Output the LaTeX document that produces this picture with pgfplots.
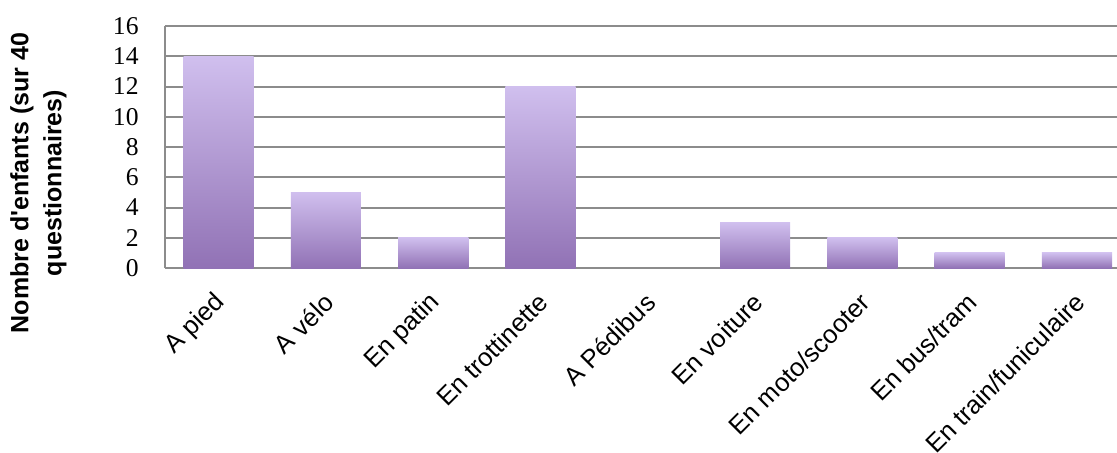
\documentclass[border=0pt]{standalone}
\usepackage{fontspec}
\setmainfont{Liberation Serif}
\setsansfont{Liberation Sans}
\usepackage{pgfplots}
\pgfplotsset{compat=1.18}

\definecolor{gridgray}{HTML}{8C8C8C}
\definecolor{bartop}{HTML}{D0BFEE}
\definecolor{barbot}{HTML}{9172B5}

\pgfplotsset{
    mybar/.style={ybar, bar width=0.653, draw=none,
                  top color=bartop, bottom color=barbot},
}

\begin{document}
\begin{tikzpicture}
\begin{axis}[
    name=ax,
    scale only axis,
    width=476bp, height=121bp,
    xmin=-0.5, xmax=8.373,
    ymin=0, ymax=16,
    ytick={0,2,...,16},
    xtick={0,...,8},
    xticklabels={A pied, A vélo, En patin, En trottinette, A Pédibus,
                 En voiture, En moto/scooter, En bus/tram, En train/funiculaire},
    axis lines=left,
    axis line style={gridgray, line width=1bp, -},
    ymajorgrids=true,
    grid style={gridgray, line width=1bp},
    major tick length=0pt,
    /pgf/number format/assume math mode=true,
    yticklabel style={font=\fontsize{12.8bp}{14bp}\selectfont,
                      anchor=east, inner sep=0pt, xshift=-13bp},
    xticklabel style={font=\sffamily\fontsize{12.8bp}{14bp}\selectfont,
                      inner sep=0pt, xshift=1.5bp, yshift=-15bp,
                      rotate=45, anchor=east},
    ylabel={Nombre d\textquotesingle enfants (sur 40\\questionnaires)},
    ylabel style={at={(axis description cs:-0.103,0.351)}, anchor=south,
                  align=center, inner sep=0pt,
                  font=\sffamily\bfseries\fontsize{12.5bp}{16.5bp}\selectfont},
]
% one plot per bar so that each bar gets its own gradient
\addplot[mybar] coordinates {(0,14)};
\addplot[mybar] coordinates {(1,5)};
\addplot[mybar] coordinates {(2,2)};
\addplot[mybar] coordinates {(3,12)};
\addplot[mybar] coordinates {(4,0)};
\addplot[mybar] coordinates {(5,3)};
\addplot[mybar] coordinates {(6,2)};
\addplot[mybar] coordinates {(7,1)};
\addplot[mybar] coordinates {(8,1)};
\end{axis}
\pgfresetboundingbox
\path ([shift={(-82.5bp,-92.5bp)}]ax.south west) rectangle ([shift={(476bp,134bp)}]ax.south west);
\end{tikzpicture}
\end{document}
